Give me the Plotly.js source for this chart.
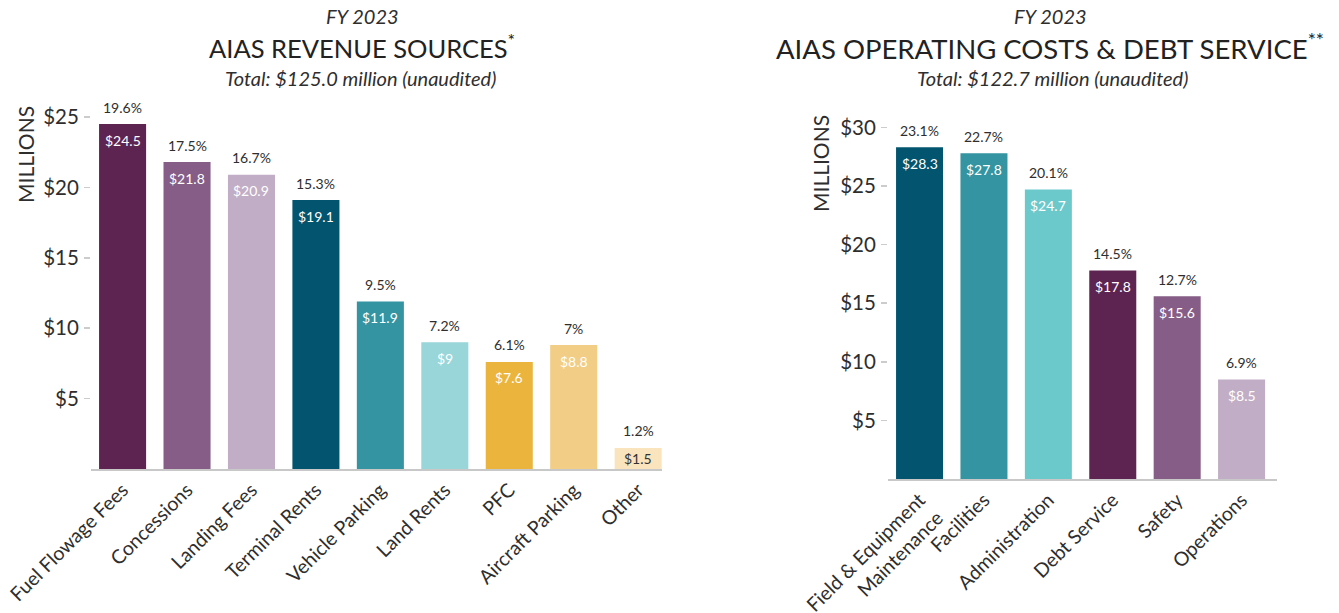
<!DOCTYPE html>
<html>
<head>
<meta charset="utf-8">
<script src="https://cdn.plot.ly/plotly-3.0.1.min.js"></script>
<style>html,body{margin:0;padding:0;background:#fff;}#chart{width:1339px;height:613px;}</style>
</head>
<body>
<div id="chart"></div>
<script>
// ---- Data ----
const revCategories = ["Fuel Flowage Fees","Concessions","Landing Fees","Terminal Rents","Vehicle Parking","Land Rents","PFC","Aircraft Parking","Other"];
const revValues = [24.5, 21.8, 20.9, 19.1, 11.9, 9, 7.6, 8.8, 1.5];
const revPercents = ["19.6%","17.5%","16.7%","15.3%","9.5%","7.2%","6.1%","7%","1.2%"];
const revLabels = ["$24.5","$21.8","$20.9","$19.1","$11.9","$9","$7.6","$8.8","$1.5"];
const revColors = ["#5d2451","#855d86","#c1adc5","#02546f","#3494a1","#99d6d9","#eab43d","#f2cd86","#f9e4bd"];
const revLabelColors = ["#ffffff","#ffffff","#ffffff","#ffffff","#ffffff","#ffffff","#ffffff","#ffffff","#333333"];
const revTickVals = [5, 10, 15, 20, 25];
const revTickText = ["$5","$10","$15","$20","$25"];

const costCategories = ["Field & Equipment<br>Maintenance","Facilities","Administration","Debt Service","Safety","Operations"];
const costValues = [28.3, 27.8, 24.7, 17.8, 15.6, 8.5];
const costPercents = ["23.1%","22.7%","20.1%","14.5%","12.7%","6.9%"];
const costLabels = ["$28.3","$27.8","$24.7","$17.8","$15.6","$8.5"];
const costColors = ["#02546f","#3494a1","#6bc9cc","#5d2451","#855d86","#c1adc5"];
const costLabelColors = ["#ffffff","#ffffff","#ffffff","#ffffff","#ffffff","#ffffff"];
const costTickVals = [5, 10, 15, 20, 25, 30];
const costTickText = ["$5","$10","$15","$20","$25","$30"];

// ---- Layout helpers ----
const W = 1339, H = 613;
const FONT = "Lato, 'Open Sans', sans-serif";
const DARK = "#2e2e2e";
const px2x = p => p / W;
const px2y = p => 1 - p / H;

const traces = [
  {type:"bar", x: revCategories, y: revValues, xaxis:"x", yaxis:"y",
   marker:{color: revColors}, hoverinfo:"skip", showlegend:false},
  {type:"bar", x: costCategories, y: costValues, xaxis:"x2", yaxis:"y2",
   marker:{color: costColors}, hoverinfo:"skip", showlegend:false}
];

const annotations = [];
function barLabels(cats, vals, pcts, labs, labColors, xref, yref, pxPerUnit) {
  cats.forEach((c, i) => {
    annotations.push({x: c, y: vals[i], xref, yref, text: pcts[i], showarrow:false,
      yanchor:"middle", yshift: 17, font:{family:FONT, size:14, color:DARK}});
    const h = vals[i] * pxPerUnit;
    const short = h < 34;
    annotations.push({x: c, y: short ? vals[i] / 2 : vals[i], xref, yref, text: labs[i], showarrow:false,
      yanchor:"middle", yshift: short ? 0 : -16, font:{family:FONT, size:14, color: labColors[i]}});
  });
}
barLabels(revCategories, revValues, revPercents, revLabels, revLabelColors, "x", "y", 14.08);
barLabels(costCategories, costValues, costPercents, costLabels, costLabelColors, "x2", "y2", 11.72);

function titleBlock(cx, title, size) {
  annotations.push({xref:"paper", yref:"paper", x: px2x(cx), y: px2y(16), text:"<i>FY 2023</i>",
    showarrow:false, xanchor:"center", yanchor:"middle", font:{family:FONT, size:20, color:DARK}});
  annotations.push({xref:"paper", yref:"paper", x: px2x(cx), y: px2y(46), text: title,
    showarrow:false, xanchor:"center", yanchor:"middle", font:{family:FONT, size:size, color:"#222"}});
}
titleBlock(362, "AIAS REVENUE SOURCES<sup>*</sup>", 25.5);
titleBlock(1050, "AIAS OPERATING COSTS &amp; DEBT SERVICE<sup>**</sup>", 27.5);
annotations.push({xref:"paper", yref:"paper", x: px2x(360), y: px2y(78), text:"<i>Total: $125.0 million (unaudited)</i>",
  showarrow:false, xanchor:"center", yanchor:"middle", font:{family:FONT, size:20, color:DARK}});
annotations.push({xref:"paper", yref:"paper", x: px2x(1052), y: px2y(78), text:"<i>Total: $122.7 million (unaudited)</i>",
  showarrow:false, xanchor:"center", yanchor:"middle", font:{family:FONT, size:20, color:DARK}});
annotations.push({xref:"paper", yref:"paper", x: px2x(25), y: px2y(155), text:"MILLIONS", textangle:-90,
  showarrow:false, xanchor:"center", yanchor:"middle", font:{family:FONT, size:21, color:DARK}});
annotations.push({xref:"paper", yref:"paper", x: px2x(821), y: px2y(164), text:"MILLIONS", textangle:-90,
  showarrow:false, xanchor:"center", yanchor:"middle", font:{family:FONT, size:21, color:DARK}});

const xaxisCommon = {
  type:"category", showgrid:false, zeroline:false, showline:true, linecolor:"#c8c8c8", linewidth:2,
  ticks:"", tickangle:-45, tickfont:{family:FONT, size:19.5, color:DARK}, fixedrange:true
};
const yaxisCommon = {
  showgrid:false, zeroline:false, showline:false, ticks:"outside", ticklen:6, tickwidth:1.5,
  tickcolor:"#cccccc", tickfont:{family:FONT, size:20.5, color:DARK}, ticklabelstandoff:1, fixedrange:true
};

const layout = {
  width: W, height: H, margin:{l:0, r:0, t:0, b:0},
  paper_bgcolor:"#ffffff", plot_bgcolor:"#ffffff",
  bargap: 0.27, showlegend:false,
  xaxis: Object.assign({}, xaxisCommon, {domain:[px2x(91), px2x(662)], range:[-0.49, 8.37], anchor:"y"}),
  yaxis: Object.assign({}, yaxisCommon, {domain:[px2y(469), px2y(100)], range:[0, 369/14.08],
    tickvals: revTickVals, ticktext: revTickText, anchor:"x"}),
  xaxis2: Object.assign({}, xaxisCommon, {domain:[px2x(888), px2x(1277)], range:[-0.49, 5.55], anchor:"y2"}),
  yaxis2: Object.assign({}, yaxisCommon, {domain:[px2y(479), px2y(112)], range:[0, 367/11.72],
    tickvals: costTickVals, ticktext: costTickText, anchor:"x2"}),
  annotations: annotations
};

Plotly.newPlot("chart", traces, layout, {displayModeBar:false, staticPlot:true});
</script>
</body>
</html>
